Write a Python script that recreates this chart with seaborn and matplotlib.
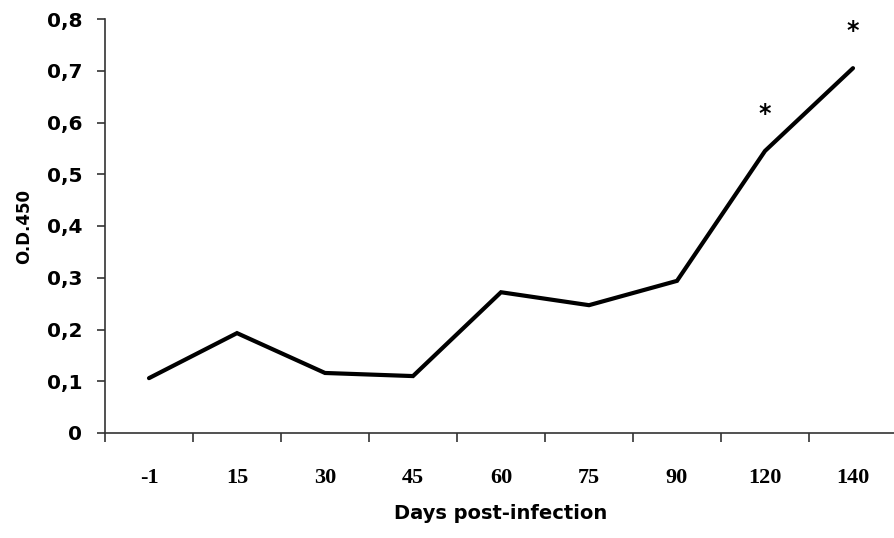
import matplotlib
matplotlib.use("Agg")
import matplotlib.pyplot as plt
import seaborn as sns
import pandas as pd
from matplotlib.ticker import FixedLocator

# Days post-infection and optical density readings
days = ["-1", "15", "30", "45", "60", "75", "90", "120", "140"]
od450 = [0.106, 0.193, 0.116, 0.110, 0.272, 0.247, 0.294, 0.545, 0.705]
significant = [False, False, False, False, False, False, False, True, True]

y_ticks = [0, 0.1, 0.2, 0.3, 0.4, 0.5, 0.6, 0.7, 0.8]
y_tick_labels = ["0", "0,1", "0,2", "0,3", "0,4", "0,5", "0,6", "0,7", "0,8"]

sns.set_style("ticks")
plt.rcParams["font.family"] = ["DejaVu Sans"]
plt.rcParams["text.color"] = "black"
plt.rcParams["xtick.labelcolor"] = "black"
plt.rcParams["ytick.labelcolor"] = "black"
plt.rcParams["axes.labelcolor"] = "black"

df = pd.DataFrame({"day": days, "od": od450})

fig = plt.figure(figsize=(8.94, 5.38), dpi=100)
ax = fig.add_axes([105 / 894, 1 - 433 / 538, 792 / 894, (433 - 19) / 538])

sns.lineplot(data=df, x="day", y="od", ax=ax, color="black", linewidth=3.0,
             sort=False, solid_joinstyle="miter")

# significance markers above the last time points
for i, (v, s) in enumerate(zip(od450, significant)):
    if s:
        ax.text(i, v + 0.072, "*", ha="center", va="center",
                fontsize=17, fontweight="bold", color="black")

ax.set_xlim(-0.5, len(days) - 0.5)
ax.set_ylim(0, 0.8)
ax.set_yticks(y_ticks)
ax.set_yticklabels(y_tick_labels, fontsize=14.5, fontweight="bold")

# category labels centred, tick marks between categories
ax.set_xticks(range(len(days)))
ax.set_xticklabels(days, fontsize=16, fontweight="bold", family="Liberation Serif")
ax.xaxis.set_minor_locator(FixedLocator([i - 0.5 for i in range(len(days) + 1)]))
ax.tick_params(axis="x", which="major", length=0, pad=25)
ax.tick_params(axis="x", which="minor", length=6.5, width=1.2, color="#333333", direction="out")
ax.tick_params(axis="y", which="major", length=5.8, width=1.2, color="#333333", pad=10.5)

ax.set_xlabel("Days post-infection", fontsize=14, fontweight="bold", labelpad=12)
ax.set_ylabel("O.D.450", fontsize=12, fontweight="bold", labelpad=10)

sns.despine(ax=ax)
for side in ("left", "bottom"):
    ax.spines[side].set_color("#333333")
    ax.spines[side].set_linewidth(1.2)

fig.savefig("out.png", dpi=100, facecolor="white")
